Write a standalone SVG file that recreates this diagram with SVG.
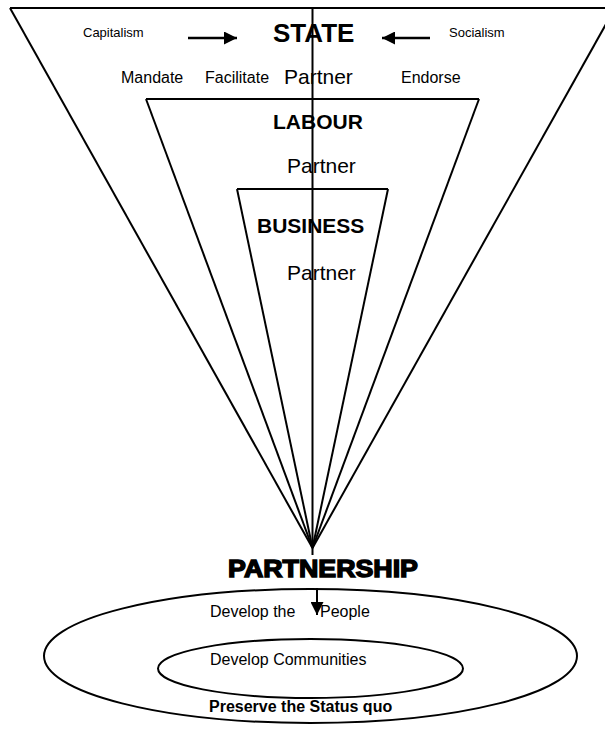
<svg xmlns="http://www.w3.org/2000/svg" width="605" height="732" viewBox="0 0 605 732">
<style>
text{font-family:"Liberation Sans",Arial,sans-serif;fill:#000}
.s{font-size:13px}.m{font-size:16px}.p{font-size:21px}
.b{font-weight:bold}
.ln{stroke:#000;stroke-width:2;fill:none}
</style>
<defs>
<marker id="ah2" viewBox="0 0 10 10" refX="10" refY="5" markerWidth="17" markerHeight="13" markerUnits="userSpaceOnUse" orient="auto"><path d="M0,0L10,5L0,10z" fill="#000"/></marker>
</defs>
<g id="connectors">
<line class="ln" x1="10" y1="8" x2="605" y2="8"/>
<line class="ln" x1="10" y1="8" x2="312.5" y2="548"/>
<line class="ln" x1="615" y1="8" x2="312.5" y2="548"/>
<line class="ln" x1="146" y1="99" x2="479" y2="99"/>
<line class="ln" x1="146" y1="99" x2="312.5" y2="548"/>
<line class="ln" x1="479" y1="99" x2="312.5" y2="548"/>
<line class="ln" x1="237" y1="189" x2="388" y2="189"/>
<line class="ln" x1="237" y1="189" x2="312.5" y2="548"/>
<line class="ln" x1="388" y1="189" x2="312.5" y2="548"/>
<line class="ln" x1="312.5" y1="8" x2="312.5" y2="555"/>
<line x1="188" y1="38" x2="237" y2="38" stroke="#000" stroke-width="2.5" marker-end="url(#ah2)"/>
<line x1="430" y1="38" x2="382" y2="38" stroke="#000" stroke-width="2.5" marker-end="url(#ah2)"/>
<line x1="317" y1="588" x2="317" y2="615" stroke="#000" stroke-width="2" marker-end="url(#ah2)"/>
</g>
<g id="state">
<text class="s" x="83" y="37">Capitalism</text>
<text x="273" y="42" class="b" font-size="26">STATE</text>
<text class="s" x="449" y="37">Socialism</text>
<text class="m" x="121" y="83">Mandate</text>
<text class="m" x="205" y="83">Facilitate</text>
<text class="p" x="284" y="84">Partner</text>
<text class="m" x="401" y="83">Endorse</text>
</g>
<g id="labour">
<text class="p b" x="273" y="129">LABOUR</text>
<text class="p" x="287" y="173">Partner</text>
</g>
<g id="business">
<text class="p b" x="257" y="233">BUSINESS</text>
<text class="p" x="287" y="280">Partner</text>
</g>
<g id="partnership">
<text x="228" y="577" font-size="24" font-weight="900" stroke="#000" stroke-width="1.4" textLength="190" lengthAdjust="spacingAndGlyphs">PARTNERSHIP</text>
</g>
<g id="outer">
<ellipse class="ln" cx="310.5" cy="656" rx="266.5" ry="67" stroke-width="1.5"/>
<text class="m" x="210" y="617" font-size="16.5">Develop the <tspan x="320">People</tspan></text>
<text class="m b" x="209" y="712">Preserve the Status quo</text>
</g>
<g id="inner">
<ellipse class="ln" cx="310.5" cy="668.5" rx="152.5" ry="29.5" stroke-width="1.5"/>
<text class="m" x="210" y="665">Develop Communities</text>
</g>
</svg>
